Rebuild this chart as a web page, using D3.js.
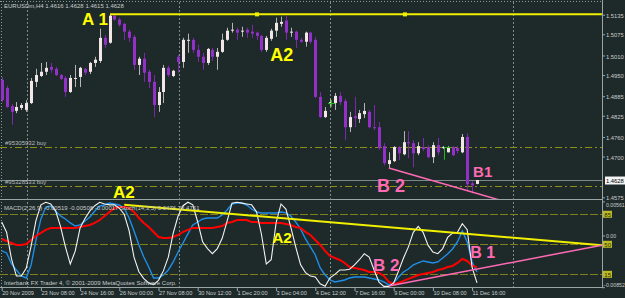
<!DOCTYPE html>
<html>
<head>
<meta charset="utf-8">
<script src="https://cdn.jsdelivr.net/npm/d3@7"></script>
<style>
  html, body { margin: 0; padding: 0; background: #1e2a2a; }
  svg { display: block; font-family: "Liberation Sans", Arial, sans-serif; }
</style>
</head>
<body>
<svg id="chart" width="625" height="298"></svg>
<script>
// EURUSDm H4 bars, 20 Nov 2009 00:00 .. 11 Dec 2009 20:00
const open = [1.4935,1.4910,1.4855,1.4840,1.4849,1.4843,1.4864,1.4929,1.4947,1.4960,
  1.4975,1.4969,1.4950,1.4941,1.4898,1.4938,1.4944,1.4969,1.4960,1.4987,
  1.4993,1.5064,1.5049,1.5132,1.5120,1.5107,1.5083,1.5067,1.4981,1.5000,
  1.4960,1.4929,1.4858,1.4898,1.4972,1.4947,1.5006,1.4990,1.5055,1.5058,
  1.5027,1.5006,1.4987,1.5027,1.5006,1.5021,1.5058,1.5086,1.5089,1.5083,
  1.5089,1.5083,1.5080,1.5070,1.5027,1.5061,1.5086,1.5107,1.5117,1.5080,
  1.5083,1.5058,1.5052,1.5080,1.5058,1.4883,1.4821,1.4861,1.4864,1.4886,
  1.4870,1.4790,1.4824,1.4815,1.4830,1.4837,1.4790,1.4790,1.4732,1.4677,
  1.4686,1.4729,1.4707,1.4744,1.4741,1.4710,1.4729,1.4729,1.4698,1.4735,
  1.4726,1.4713,1.4729,1.4726,1.4713,1.4760,1.4618,1.4616];
const high = [1.4944,1.4917,1.4861,1.4867,1.4864,1.4873,1.4941,1.4969,1.4987,1.4990,
  1.4987,1.4975,1.4953,1.4947,1.4950,1.4981,1.4975,1.4972,1.4990,1.5006,
  1.5092,1.5073,1.5135,1.5137,1.5126,1.5110,1.5089,1.5073,1.5006,1.5018,
  1.4966,1.4950,1.4913,1.4981,1.4978,1.4966,1.5012,1.5064,1.5077,1.5064,
  1.5043,1.5018,1.5033,1.5033,1.5033,1.5077,1.5095,1.5110,1.5095,1.5098,
  1.5095,1.5104,1.5083,1.5073,1.5070,1.5092,1.5126,1.5129,1.5132,1.5095,
  1.5086,1.5064,1.5083,1.5083,1.5067,1.4898,1.4852,1.4877,1.4895,1.4898,
  1.4877,1.4837,1.4883,1.4843,1.4864,1.4843,1.4858,1.4806,1.4741,1.4713,
  1.4732,1.4732,1.4778,1.4778,1.4750,1.4744,1.4757,1.4735,1.4744,1.4757,
  1.4732,1.4732,1.4732,1.4732,1.4769,1.4772,1.4624,1.4628];
const low = [1.4867,1.4849,1.4797,1.4833,1.4843,1.4837,1.4861,1.4913,1.4944,1.4950,
  1.4957,1.4947,1.4935,1.4883,1.4895,1.4913,1.4913,1.4950,1.4953,1.4975,
  1.4987,1.5033,1.5046,1.5117,1.5098,1.5058,1.5052,1.4966,1.4950,1.4929,
  1.4910,1.4821,1.4837,1.4864,1.4944,1.4944,1.4957,1.4972,1.5018,1.5018,
  1.4990,1.4966,1.4981,1.4993,1.4966,1.5018,1.5055,1.5080,1.5058,1.5067,
  1.5064,1.5064,1.5058,1.5021,1.5021,1.5055,1.5067,1.5098,1.5058,1.5067,
  1.5033,1.5049,1.5037,1.5046,1.4880,1.4818,1.4818,1.4855,1.4843,1.4858,
  1.4750,1.4775,1.4790,1.4803,1.4818,1.4787,1.4781,1.4720,1.4673,1.4664,
  1.4683,1.4689,1.4704,1.4695,1.4667,1.4704,1.4717,1.4695,1.4680,1.4704,
  1.4723,1.4713,1.4701,1.4710,1.4710,1.4597,1.4587,1.4615];
const close = [1.4873,1.4852,1.4837,1.4852,1.4858,1.4864,1.4932,1.4950,1.4960,1.4972,
  1.4966,1.4950,1.4938,1.4898,1.4941,1.4941,1.4972,1.4957,1.4987,1.4997,
  1.5064,1.5043,1.5132,1.5120,1.5104,1.5083,1.5064,1.4981,1.5000,1.4957,
  1.4929,1.4858,1.4898,1.4972,1.4950,1.4963,1.4990,1.5058,1.5058,1.5027,
  1.5006,1.4987,1.5030,1.5006,1.5021,1.5058,1.5086,1.5089,1.5080,1.5086,
  1.5080,1.5077,1.5070,1.5027,1.5064,1.5086,1.5110,1.5113,1.5080,1.5083,
  1.5058,1.5052,1.5080,1.5052,1.4883,1.4821,1.4840,1.4867,1.4886,1.4867,
  1.4790,1.4821,1.4818,1.4833,1.4840,1.4790,1.4787,1.4726,1.4680,1.4689,
  1.4729,1.4710,1.4744,1.4741,1.4710,1.4732,1.4723,1.4698,1.4735,1.4713,
  1.4729,1.4729,1.4704,1.4717,1.4760,1.4615,1.4612,1.4628];

// indicator window
const stoch = [76,64,33,13,13,22,48,78,96,99,
  97,89,71,47,27,42,69,80,89,95,
  99,97,96,96,92,85,66,35,18,10,
  5,3,8,19,35,63,83,95,99,96,
  76,53,45,39,45,57,77,98,99,98,
  97,96,88,62,27,32,75,97,91,70,
  47,26,17,13,12,4,1,11,15,20,
  20,21,26,32,39,35,20,6,1,1,
  5,19,34,47,64,71,64,49,41,39,
  45,58,63,64,74,67,23,5];
const macd = [-0.00255,-0.00288,-0.00469,-0.00568,-0.00667,-0.00700,-0.00486,-0.00074,0.00272,0.00469,
  0.00486,0.00404,0.00321,0.00272,0.00206,0.00156,0.00173,0.00239,0.00305,0.00404,
  0.00486,0.00502,0.00535,0.00519,0.00502,0.00453,0.00288,0.00074,-0.00156,-0.00354,
  -0.00519,-0.00700,-0.00700,-0.00651,-0.00568,-0.00436,-0.00272,-0.00124,0.00025,0.00173,
  0.00222,0.00272,0.00288,0.00288,0.00288,0.00338,0.00420,0.00519,0.00535,0.00535,
  0.00502,0.00436,0.00387,0.00371,0.00371,0.00371,0.00371,0.00387,0.00371,0.00321,
  0.00222,0.00107,-0.00058,-0.00189,-0.00321,-0.00535,-0.00651,-0.00733,-0.00766,-0.00749,
  -0.00733,-0.00700,-0.00684,-0.00684,-0.00684,-0.00700,-0.00716,-0.00733,-0.00766,-0.00815,
  -0.00782,-0.00684,-0.00601,-0.00552,-0.00486,-0.00453,-0.00420,-0.00436,-0.00453,-0.00436,
  -0.00371,-0.00305,-0.00222,-0.00107,0.00074,-0.00107,-0.00436,-0.00601];
const signal = [-0.00058,-0.00091,-0.00124,-0.00156,-0.00156,-0.00140,-0.00074,-0.00008,0.00041,0.00091,
  0.00124,0.00124,0.00124,0.00124,0.00124,0.00124,0.00140,0.00156,0.00173,0.00206,
  0.00255,0.00321,0.00387,0.00453,0.00469,0.00469,0.00453,0.00387,0.00288,0.00206,
  0.00140,0.00058,-0.00025,-0.00041,-0.00041,-0.00025,0.00008,0.00058,0.00091,0.00124,
  0.00124,0.00124,0.00124,0.00124,0.00140,0.00156,0.00206,0.00222,0.00255,0.00255,
  0.00255,0.00222,0.00222,0.00206,0.00206,0.00206,0.00206,0.00206,0.00189,0.00173,
  0.00140,0.00124,0.00058,0.00008,-0.00074,-0.00156,-0.00255,-0.00338,-0.00371,-0.00404,
  -0.00453,-0.00519,-0.00535,-0.00552,-0.00568,-0.00601,-0.00601,-0.00618,-0.00667,-0.00766,
  -0.00799,-0.00782,-0.00749,-0.00716,-0.00684,-0.00651,-0.00634,-0.00618,-0.00601,-0.00568,
  -0.00552,-0.00519,-0.00502,-0.00453,-0.00387,-0.00420,-0.00502,-0.00519];

// axes
const priceTicks = [1.5135,1.5075,1.5010,1.4950,1.4885,1.4825,1.4760,1.4700,1.4575];
const timeBars = [0,8,16,24,32,40,48,56,64,72,80,88,96];
const timeLabels = ["20 Nov 2009","23 Nov 08:00","24 Nov 16:00","26 Nov 00:00","27 Nov 08:00",
  "30 Nov 12:00","1 Dec 20:00","3 Dec 04:00","4 Dec 12:00","7 Dec 16:00","9 Dec 00:00",
  "10 Dec 08:00","11 Dec 16:00"];
const gridBars = [5.1, 36.1, 67.1, 104.3];
const stochLevels = [85, 50, 15];

// orders and drawings
const orderPrices = [1.4730, 1.4610];
const orderNames = ["#95305932 buy", "#95328533 buy"];
const bidPrice = 1.4628;
const lineA1 = [{ bar: 22.1, v: 1.5136 }, { bar: 122.5, v: 1.5136 }];
const lineA1Handles = [52.1, 82.3];
const lineB = [{ bar: 79, v: 1.4665 }, { bar: 102, v: 1.4565 }];
const indYellow = [{ bar: 25, v: 96 }, { bar: 122.5, v: 49 }];
const indPink = [{ bar: 79, v: 1.4 }, { bar: 122.5, v: 49 }];
const mainNotes = [
  { t: "A 1", bar: 16.4, v: 1.5103, c: "#ffff00", s: 17 },
  { t: "A2", bar: 54.8, v: 1.4993, c: "#ffff00", s: 18 },
  { t: "A2", bar: 22.7, v: 1.4573, c: "#ffff00", s: 17 },
  { t: "B 2", bar: 76.6, v: 1.4592, c: "#ff6ab4", s: 18 },
  { t: "B1", bar: 96.2, v: 1.4638, c: "#ff6ab4", s: 15 }
];
const indNotes = [
  { t: "A2", bar: 55.2, v: 51, c: "#ffff00", s: 15.5 },
  { t: "B 2", bar: 75.8, v: 19, c: "#ff6ab4", s: 17 },
  { t: "B 1", bar: 95.6, v: 34, c: "#ff6ab4", s: 16 }
];

const W = 625, H = 298, plotR = 602;
const BG = "#1e2a2a";
const FONT = "Liberation Sans, Arial, sans-serif";
const svg = d3.select("#chart");

const x = d3.scaleLinear().domain([0, 122.5]).range([1.7, 1.7 + 4.9 * 122.5]);
const yPrice = d3.scaleLinear().domain([1.4575, 1.5135]).range([197.3, 14.7]);
const yStoch = d3.scaleLinear().domain([0, 100]).range([287.2, 201.4]);
const yMacd = d3.scaleLinear().domain([-0.00852, 0.00561]).range([287.2, 201.4]);

svg.append("rect").attr("width", W).attr("height", H).attr("fill", BG);

const defs = svg.append("defs");
defs.append("clipPath").attr("id", "clipMain").append("rect")
  .attr("x", 0).attr("y", 2).attr("width", plotR).attr("height", 197);
defs.append("clipPath").attr("id", "clipInd").append("rect")
  .attr("x", 0).attr("y", 201).attr("width", plotR).attr("height", 86.5);

// frame
const frame = svg.append("g").attr("fill", "none");
frame.append("line").attr("x1", 0).attr("x2", plotR).attr("y1", 1.5).attr("y2", 1.5)
  .attr("stroke", "#8c9a9a").attr("stroke-dasharray", "1,2");
frame.append("line").attr("x1", 1.5).attr("x2", 1.5).attr("y1", 1).attr("y2", 287)
  .attr("stroke", "#8c9a9a").attr("stroke-dasharray", "1,2");
frame.append("line").attr("x1", 0).attr("x2", plotR).attr("y1", 199.5).attr("y2", 199.5)
  .attr("stroke", "#9aa4a4");
frame.append("line").attr("x1", 0).attr("x2", plotR).attr("y1", 287.5).attr("y2", 287.5)
  .attr("stroke", "#9aa4a4");
frame.append("line").attr("x1", plotR + 0.5).attr("x2", plotR + 0.5).attr("y1", 0).attr("y2", 288)
  .attr("stroke", "#9aa4a4");

// vertical grid
svg.append("g").selectAll("line").data(gridBars).join("line")
  .attr("x1", d => Math.round(x(d)) + 0.5).attr("x2", d => Math.round(x(d)) + 0.5)
  .attr("y1", 2).attr("y2", 287)
  .attr("stroke", "#7d8c8c").attr("stroke-dasharray", "2,2");

// ---- main window
const main = svg.append("g").attr("clip-path", "url(#clipMain)");

main.selectAll("line.order").data(orderPrices).join("line")
  .attr("class", "order")
  .attr("x1", 0).attr("x2", plotR)
  .attr("y1", d => Math.round(yPrice(d)) + 0.5).attr("y2", d => Math.round(yPrice(d)) + 0.5)
  .attr("stroke", "#8f8f14").attr("stroke-dasharray", "7,3,2,3");

main.append("line")
  .attr("x1", 0).attr("x2", plotR)
  .attr("y1", Math.round(yPrice(bidPrice)) + 0.5).attr("y2", Math.round(yPrice(bidPrice)) + 0.5)
  .attr("stroke", "#7c8888");

const bars = d3.range(open.length);
const cx = i => Math.round(x(i));
const bull = i => close[i] >= open[i];

main.append("g").selectAll("line").data(bars).join("line")
  .attr("x1", i => cx(i) + 0.5).attr("x2", i => cx(i) + 0.5)
  .attr("y1", i => yPrice(high[i])).attr("y2", i => yPrice(low[i]))
  .attr("stroke", i => bull(i) ? "#b4b4b4" : "#7b28aa");

main.append("g").selectAll("rect").data(bars).join("rect")
  .attr("x", i => cx(i) - 1)
  .attr("width", 3)
  .attr("y", i => yPrice(Math.max(open[i], close[i])))
  .attr("height", i => Math.max(1, Math.abs(yPrice(open[i]) - yPrice(close[i]))))
  .attr("fill", i => bull(i) ? "#f2e6e6" : "#9230c8");

// trade markers
main.append("path")
  .attr("d", `M${Math.round(x(67.2)) - 3},${Math.round(yPrice(1.4864)) + 0.5}h7M${Math.round(x(67.2)) + 0.5},${Math.round(yPrice(1.4864)) - 3}v7`)
  .attr("stroke", "#22b422").attr("fill", "none");
main.append("path")
  .attr("d", `M${Math.round(x(90.3)) + 0.5},${yPrice(1.4690)}V${Math.round(yPrice(1.4730)) + 0.5}h6`)
  .attr("stroke", "#22b422").attr("fill", "none");

const segMain = d3.line().x(d => x(d.bar)).y(d => yPrice(d.v));
main.append("path").datum(lineA1).attr("d", segMain)
  .attr("stroke", "#f0f000").attr("stroke-width", 2).attr("fill", "none");
main.selectAll("rect.handle").data(lineA1Handles).join("rect")
  .attr("class", "handle")
  .attr("x", d => x(d) - 2).attr("y", yPrice(1.5136) - 2)
  .attr("width", 4).attr("height", 4).attr("fill", "#f0f000");
main.append("path").datum(lineB).attr("d", segMain)
  .attr("stroke", "#ff6ab4").attr("stroke-width", 1.5).attr("fill", "none");

// ---- indicator window
const ind = svg.append("g").attr("clip-path", "url(#clipInd)");

ind.selectAll("line.level").data(stochLevels).join("line")
  .attr("class", "level")
  .attr("x1", 0).attr("x2", plotR)
  .attr("y1", d => Math.round(yStoch(d)) + 0.5).attr("y2", d => Math.round(yStoch(d)) + 0.5)
  .attr("stroke", "#7f7f1c").attr("stroke-dasharray", "8,2");

const lineMacd = d3.line().x((d, i) => x(i)).y(d => yMacd(d));
const lineStoch = d3.line().x((d, i) => x(i)).y(d => yStoch(d));

ind.append("path").datum(macd).attr("d", lineMacd)
  .attr("stroke", "#1e8ee8").attr("stroke-width", 1.4).attr("fill", "none");
ind.append("path").datum(signal).attr("d", lineMacd)
  .attr("stroke", "#ff0000").attr("stroke-width", 2).attr("fill", "none");
ind.append("path").datum(stoch).attr("d", lineStoch)
  .attr("stroke", "#f4f4f4").attr("stroke-width", 1.1).attr("fill", "none");

const segInd = d3.line().x(d => x(d.bar)).y(d => yStoch(d.v));
ind.append("path").datum(indYellow).attr("d", segInd)
  .attr("stroke", "#f0f000").attr("stroke-width", 2).attr("fill", "none");
ind.append("path").datum(indPink).attr("d", segInd)
  .attr("stroke", "#ff6ab4").attr("stroke-width", 1.5).attr("fill", "none");

// ---- texts
const small = "6px";
const txt = svg.append("g").attr("font-size", small).attr("fill", "#c8cccc");
txt.append("text").attr("x", 4).attr("y", 8)
  .text(`EURUSDm,H4  ${open[97].toFixed(4)} ${high[97].toFixed(4)} ${low[97].toFixed(4)} ${close[97].toFixed(4)}`);
txt.selectAll("text.ord").data(orderPrices).join("text")
  .attr("class", "ord")
  .attr("x", 5).attr("y", d => yPrice(d) - 2)
  .attr("fill", "#b8bcbc")
  .text((d, i) => orderNames[i]);
txt.append("text").attr("x", 4).attr("y", 210)
  .text("MACD(2,26,9) -0.00519 -0.00508 -0.00017  Stoch(14,3,5) 5.0476 23.4751");
txt.append("text").attr("x", 4).attr("y", 285)
  .text("Interbank FX Trader 4, \u00a9 2001-2009 MetaQuotes Software Corp.");

const notes = svg.append("g").attr("font-weight", "bold");
notes.selectAll("text.m").data(mainNotes).join("text")
  .attr("class", "m")
  .attr("x", d => x(d.bar)).attr("y", d => yPrice(d.v))
  .attr("fill", d => d.c).attr("font-size", d => d.s + "px")
  .text(d => d.t);
notes.selectAll("text.n").data(indNotes).join("text")
  .attr("class", "n")
  .attr("x", d => x(d.bar)).attr("y", d => yStoch(d.v))
  .attr("fill", d => d.c).attr("font-size", d => d.s + "px")
  .text(d => d.t);

// price axis
const pAxis = svg.append("g").attr("transform", `translate(${plotR},0)`)
  .call(d3.axisRight(yPrice).tickValues(priceTicks).tickFormat(d3.format(".4f")).tickSize(3));
pAxis.select(".domain").remove();
pAxis.selectAll("line").attr("stroke", "#9aa4a4");
pAxis.selectAll("text").attr("fill", "#c8cccc").attr("font-size", "5.8px")
  .attr("font-family", FONT).attr("x", 4).attr("dy", "0.45em");

// bid box
const by = yPrice(bidPrice);
svg.append("rect").attr("x", plotR + 3).attr("y", by - 3.5).attr("width", 20).attr("height", 8)
  .attr("fill", "#f4f4f4");
svg.append("text").attr("x", plotR + 4).attr("y", by + 2.6).attr("font-size", "5.8px")
  .attr("fill", "#000").text(bidPrice.toFixed(4));

// indicator axis
const mTicks = [0.00561, 0, -0.00852];
const mAxis = svg.append("g").attr("transform", `translate(${plotR},0)`)
  .call(d3.axisRight(yMacd).tickValues(mTicks)
    .tickFormat(d => d === 0 ? "0.00" : d3.format(".5f")(d)).tickSize(3));
mAxis.select(".domain").remove();
mAxis.selectAll("line").attr("stroke", "#9aa4a4");
mAxis.selectAll("text").attr("fill", "#c8cccc").attr("font-size", "5.2px")
  .attr("font-family", FONT)
  .attr("x", (d, i) => i === 2 ? 1 : 4)
  .attr("dy", (d, i) => i === 0 ? "1.0em" : i === 2 ? "-0.15em" : "0.4em");

const lv = svg.append("g").selectAll("g").data(stochLevels).join("g")
  .attr("transform", d => `translate(${plotR + 1},${yStoch(d)})`);
lv.append("rect").attr("x", 0).attr("y", -3.5).attr("width", 9).attr("height", 7)
  .attr("fill", "#bcbc22");
lv.append("text").attr("x", 1.3).attr("y", 2.4).attr("font-size", "6px")
  .attr("fill", "#2a2a10").text(d => d);

// time axis
const tAxis = svg.append("g").attr("transform", "translate(0,288)")
  .call(d3.axisBottom(x).tickValues(timeBars).tickFormat((d, i) => timeLabels[i]).tickSize(3));
tAxis.select(".domain").remove();
tAxis.selectAll("line").attr("stroke", "#9aa4a4");
tAxis.selectAll("text").attr("fill", "#c8cccc").attr("font-size", "5.6px")
  .attr("font-family", FONT)
  .attr("text-anchor", "start").attr("x", 0).attr("y", 2.5).attr("dy", "0.75em");
</script>
</body>
</html>
